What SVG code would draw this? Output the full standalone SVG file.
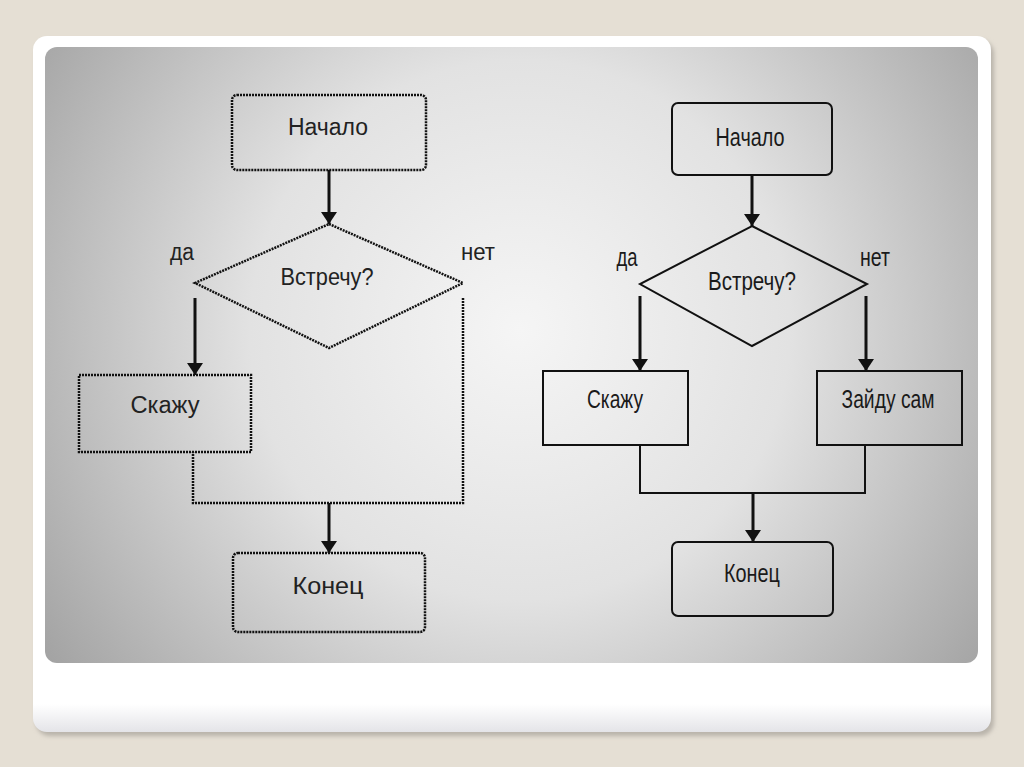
<svg xmlns="http://www.w3.org/2000/svg" width="1024" height="767" viewBox="0 0 1024 767">
<defs>
<radialGradient id="pg" gradientUnits="userSpaceOnUse" cx="520" cy="330" r="600">
<stop offset="0" stop-color="#f5f5f5"/>
<stop offset="0.45" stop-color="#e2e2e2"/>
<stop offset="1" stop-color="#9e9e9e"/>
</radialGradient>
<linearGradient id="cardg" x1="0" y1="0" x2="0" y2="1">
<stop offset="0" stop-color="#ffffff"/>
<stop offset="0.96" stop-color="#ffffff"/>
<stop offset="1" stop-color="#e4e4e8"/>
</linearGradient>
<filter id="sh" x="-5%" y="-5%" width="110%" height="110%">
<feGaussianBlur stdDeviation="2"/>
</filter>
<marker id="ah" viewBox="0 0 12 16" refX="12" refY="8" markerWidth="12" markerHeight="16" markerUnits="userSpaceOnUse" orient="auto">
<path d="M0,0 L12,8 L0,16 Z" fill="#111"/>
</marker>
</defs>
<style>
.dot{fill:none;stroke:#111;stroke-width:2.5;stroke-dasharray:2 1}
.sol{fill:none;stroke:#111;stroke-width:2}
.arr{fill:none;stroke:#111;stroke-width:3}
.t{font-family:"Liberation Sans",Arial,sans-serif;font-size:26px;fill:#1a1a1a;text-anchor:middle}
.tl{font-family:"Liberation Sans",Arial,sans-serif;font-size:23px;fill:#222;text-anchor:middle}
</style>
<rect x="0" y="0" width="1024" height="767" fill="#e5dfd4"/>
<rect x="36" y="40" width="958" height="696" rx="14" fill="#b9b4ab" filter="url(#sh)"/>
<rect x="33" y="36" width="958" height="696" rx="14" fill="url(#cardg)"/>
<rect x="45" y="47" width="933" height="616" rx="12" fill="url(#pg)"/>

<g id="connectors">
<line class="arr" x1="329" y1="170" x2="329" y2="224" marker-end="url(#ah)"/>
<line class="arr" x1="195" y1="298" x2="195" y2="375" marker-end="url(#ah)"/>
<polyline class="dot" points="463,298 463,503 193,503 193,452"/>
<line class="arr" x1="329" y1="503" x2="329" y2="553" marker-end="url(#ah)"/>

<line class="arr" x1="752" y1="175" x2="752" y2="226" marker-end="url(#ah)"/>
<line class="arr" x1="640" y1="296" x2="640" y2="371" marker-end="url(#ah)"/>
<line class="arr" x1="866" y1="296" x2="866" y2="371" marker-end="url(#ah)"/>
<polyline class="sol" points="640,445 640,493 865,493 865,445"/>
<line class="arr" x1="753" y1="493" x2="753" y2="542" marker-end="url(#ah)"/>
</g>

<g id="l-start">
<rect class="dot" x="232" y="95" width="194" height="75" rx="5"/>
<text class="tl" x="328" y="135" textLength="80" lengthAdjust="spacingAndGlyphs">Начало</text>
</g>
<g id="l-decision">
<polygon class="dot" points="329,224 463,283 329,348 195,283"/>
<text class="tl" x="327" y="285" textLength="93" lengthAdjust="spacingAndGlyphs">Встречу?</text>
</g>
<g id="l-yes"><text class="tl" x="182" y="260" textLength="24" lengthAdjust="spacingAndGlyphs">да</text></g>
<g id="l-no"><text class="tl" x="478" y="260" textLength="34" lengthAdjust="spacingAndGlyphs">нет</text></g>
<g id="l-say">
<rect class="dot" x="79" y="375" width="172" height="77"/>
<text class="tl" x="165" y="413" textLength="69" lengthAdjust="spacingAndGlyphs">Скажу</text>
</g>
<g id="l-end">
<rect class="dot" x="233" y="553" width="192" height="79" rx="5"/>
<text class="tl" x="328" y="594" textLength="71" lengthAdjust="spacingAndGlyphs">Конец</text>
</g>

<g id="r-start">
<rect class="sol" x="672" y="103" width="160" height="72" rx="6"/>
<text class="t" x="750" y="146" textLength="69" lengthAdjust="spacingAndGlyphs">Начало</text>
</g>
<g id="r-decision">
<polygon class="sol" points="752,226 867,284 752,346 640,284" stroke-width="1.5"/>
<text class="t" x="752" y="290" textLength="88" lengthAdjust="spacingAndGlyphs">Встречу?</text>
</g>
<g id="r-yes"><text class="t" x="627" y="266" textLength="21" lengthAdjust="spacingAndGlyphs">да</text></g>
<g id="r-no"><text class="t" x="875" y="266" textLength="30" lengthAdjust="spacingAndGlyphs">нет</text></g>
<g id="r-say">
<rect class="sol" x="543" y="371" width="145" height="74"/>
<text class="t" x="615" y="408" textLength="56" lengthAdjust="spacingAndGlyphs">Скажу</text>
</g>
<g id="r-go">
<rect class="sol" x="817" y="371" width="145" height="74"/>
<text class="t" x="888" y="408" textLength="93" lengthAdjust="spacingAndGlyphs">Зайду сам</text>
</g>
<g id="r-end">
<rect class="sol" x="672" y="542" width="161" height="74" rx="6"/>
<text class="t" x="752" y="582" textLength="56" lengthAdjust="spacingAndGlyphs">Конец</text>
</g>
</svg>
